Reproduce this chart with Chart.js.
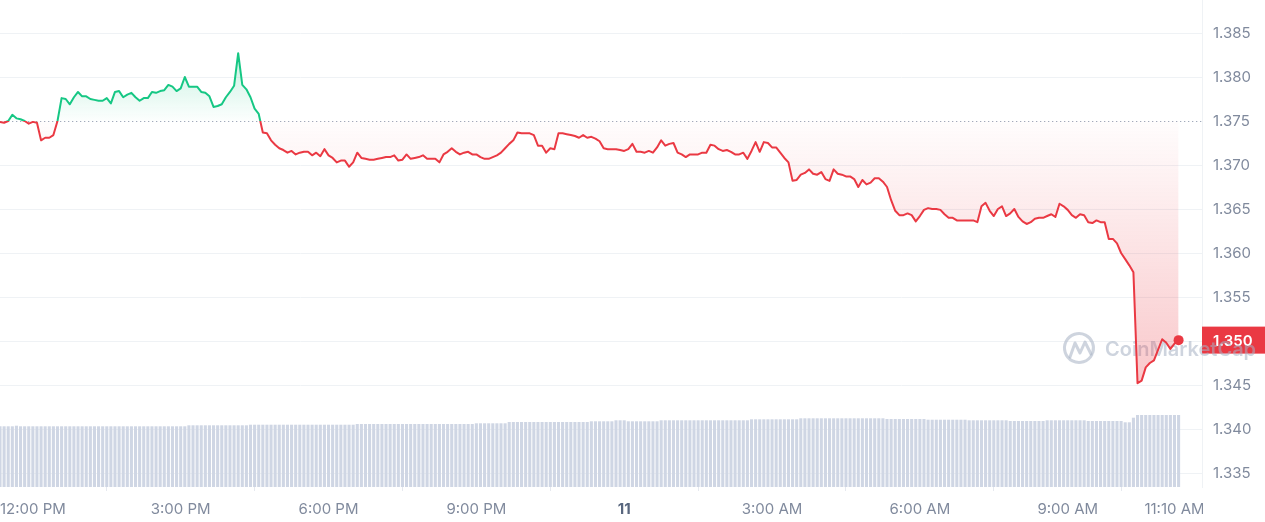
<!DOCTYPE html>
<html>
<head>
<meta charset="utf-8">
<script src="https://cdn.jsdelivr.net/npm/chart.js@4.4.1/dist/chart.umd.min.js"></script>
<style>
  html, body { margin: 0; padding: 0; background: #fff; }
  #wrap { width: 1265px; height: 522px; position: relative; }
</style>
</head>
<body>
<div id="wrap"><canvas id="priceChart"></canvas></div>
<script>
// 24h price, one value per 5-minute slot (slot 0 = 11:20 AM, slot 8 = 12:00 PM)
const OPEN_PRICE = 1.375;

const PRICES = [
  1.3749, 1.3748, 1.3750, 1.3757, 1.3753, 1.3752, 1.3750, 1.3747, 1.3749, 1.3748, 1.3728, 1.3731,
  1.3731, 1.3734, 1.3750, 1.3776, 1.3775, 1.3769, 1.3777, 1.3783, 1.3778, 1.3778, 1.3775, 1.3774,
  1.3773, 1.3773, 1.3776, 1.3770, 1.3783, 1.3784, 1.3777, 1.3780, 1.3782, 1.3777, 1.3773, 1.3776,
  1.3776, 1.3783, 1.3782, 1.3784, 1.3785, 1.3791, 1.3789, 1.3784, 1.3787, 1.3800, 1.3789, 1.3789,
  1.3789, 1.3783, 1.3782, 1.3778, 1.3766, 1.3767, 1.3769, 1.3777, 1.3783, 1.3790, 1.3827, 1.3791,
  1.3786, 1.3777, 1.3764, 1.3758, 1.3737, 1.3736, 1.3728, 1.3723, 1.3719, 1.3717, 1.3714, 1.3716,
  1.3712, 1.3714, 1.3715, 1.3715, 1.3711, 1.3714, 1.3710, 1.3718, 1.3711, 1.3708, 1.3703, 1.3705,
  1.3705, 1.3698, 1.3703, 1.3714, 1.3708, 1.3707, 1.3706, 1.3706, 1.3707, 1.3708, 1.3709, 1.3709,
  1.3711, 1.3705, 1.3706, 1.3712, 1.3707, 1.3708, 1.3709, 1.3711, 1.3707, 1.3707, 1.3707, 1.3703,
  1.3712, 1.3715, 1.3719, 1.3715, 1.3712, 1.3714, 1.3715, 1.3712, 1.3712, 1.3709, 1.3707, 1.3707,
  1.3709, 1.3711, 1.3714, 1.3719, 1.3724, 1.3728, 1.3737, 1.3736, 1.3736, 1.3736, 1.3734, 1.3722,
  1.3722, 1.3714, 1.3719, 1.3718, 1.3736, 1.3736, 1.3735, 1.3734, 1.3733, 1.3731, 1.3734, 1.3731,
  1.3732, 1.3730, 1.3727, 1.3719, 1.3718, 1.3718, 1.3718, 1.3717, 1.3716, 1.3718, 1.3724, 1.3715,
  1.3715, 1.3714, 1.3716, 1.3714, 1.3720, 1.3728, 1.3722, 1.3724, 1.3725, 1.3714, 1.3712, 1.3709,
  1.3712, 1.3712, 1.3712, 1.3714, 1.3714, 1.3723, 1.3722, 1.3718, 1.3716, 1.3717, 1.3715, 1.3712,
  1.3712, 1.3714, 1.3707, 1.3716, 1.3726, 1.3715, 1.3726, 1.3725, 1.3720, 1.3720, 1.3714, 1.3708,
  1.3703, 1.3682, 1.3683, 1.3689, 1.3691, 1.3695, 1.3690, 1.3689, 1.3692, 1.3684, 1.3682, 1.3695,
  1.3690, 1.3689, 1.3687, 1.3687, 1.3684, 1.3675, 1.3683, 1.3678, 1.3680, 1.3685, 1.3685, 1.3681,
  1.3675, 1.3660, 1.3648, 1.3643, 1.3643, 1.3645, 1.3643, 1.3636, 1.3642, 1.3649, 1.3651, 1.3650,
  1.3650, 1.3649, 1.3644, 1.3640, 1.3640, 1.3637, 1.3637, 1.3637, 1.3637, 1.3637, 1.3635, 1.3653,
  1.3657, 1.3648, 1.3642, 1.3650, 1.3653, 1.3642, 1.3645, 1.3650, 1.3641, 1.3636, 1.3633, 1.3635,
  1.3639, 1.3640, 1.3640, 1.3642, 1.3644, 1.3641, 1.3656, 1.3653, 1.3649, 1.3643, 1.3640, 1.3644,
  1.3643, 1.3635, 1.3634, 1.3637, 1.3635, 1.3635, 1.3616, 1.3616, 1.3611, 1.3600, 1.3593, 1.3586,
  1.3578, 1.3452, 1.3455, 1.3470, 1.3475, 1.3478, 1.3490, 1.3502, 1.3498, 1.3491, 1.3497, 1.3501,
];

// volume per slot (relative units, hidden axis)
const VOLUMES = [
  60.7, 60.7, 60.7, 60.7, 61.3, 60.7, 60.7, 60.7, 60.7, 60.7, 60.7, 60.7,
  60.7, 60.7, 60.7, 60.7, 60.7, 60.7, 60.7, 60.7, 60.7, 60.7, 60.7, 60.7,
  60.7, 60.7, 60.7, 60.7, 60.7, 60.7, 60.7, 60.7, 60.7, 60.7, 60.7, 60.7,
  60.7, 60.7, 60.7, 60.7, 60.7, 60.7, 60.7, 60.7, 60.7, 60.7, 61.7, 61.7,
  61.7, 61.7, 61.7, 61.7, 61.7, 61.7, 61.7, 61.7, 61.7, 61.7, 61.7, 61.7,
  61.7, 62.3, 62.3, 62.3, 62.3, 62.3, 62.3, 62.3, 62.3, 62.3, 62.3, 62.3,
  62.3, 62.3, 62.3, 62.3, 62.3, 62.3, 62.3, 62.3, 62.3, 62.3, 62.3, 62.3,
  62.3, 62.3, 62.3, 63.0, 63.0, 63.0, 63.0, 63.0, 63.0, 63.0, 63.0, 63.0,
  63.0, 63.0, 63.0, 63.0, 63.0, 63.0, 63.0, 63.0, 63.0, 63.0, 63.0, 63.0,
  63.0, 63.0, 63.0, 63.0, 63.0, 63.0, 63.0, 63.0, 63.7, 63.7, 63.7, 63.7,
  63.7, 63.7, 63.7, 63.7, 65.0, 65.0, 65.0, 65.0, 65.0, 65.0, 65.0, 65.0,
  65.0, 65.0, 65.0, 65.0, 65.0, 65.0, 65.0, 65.0, 65.0, 65.0, 65.0, 65.0,
  65.7, 65.7, 65.7, 65.7, 65.7, 65.7, 66.7, 66.7, 66.7, 65.7, 65.7, 65.7,
  65.7, 65.7, 65.7, 65.7, 65.7, 66.7, 66.7, 66.7, 66.7, 66.7, 66.7, 66.7,
  66.7, 66.7, 66.7, 66.7, 66.7, 66.7, 66.7, 66.7, 66.7, 66.7, 66.7, 66.7,
  66.7, 66.7, 66.7, 67.7, 67.7, 67.7, 67.7, 67.7, 67.7, 67.7, 67.7, 67.7,
  67.7, 67.7, 67.7, 68.7, 68.7, 68.7, 68.7, 68.7, 68.7, 68.7, 68.7, 68.7,
  68.7, 68.7, 68.7, 68.7, 68.7, 68.7, 68.7, 68.7, 68.7, 68.7, 68.7, 68.7,
  68.0, 68.0, 68.0, 68.0, 68.0, 68.0, 68.0, 68.0, 68.0, 68.0, 67.3, 67.3,
  67.3, 67.3, 67.3, 67.3, 67.3, 67.3, 67.3, 67.3, 66.7, 66.7, 66.7, 66.7,
  66.7, 66.7, 66.7, 66.7, 66.7, 66.7, 66.0, 66.0, 66.0, 66.0, 66.0, 66.0,
  66.0, 66.0, 66.0, 66.7, 66.7, 66.7, 66.7, 66.7, 66.7, 66.7, 66.7, 66.7,
  66.7, 66.0, 66.0, 66.0, 66.0, 66.0, 66.0, 66.0, 66.0, 66.0, 64.7, 64.7,
  69.3, 72.0, 72.0, 72.0, 72.0, 72.0, 72.0, 72.0, 72.0, 72.0, 72.0, 72.0,
];

const TICK_SLOTS  = [8, 44, 80, 116, 152, 188, 224, 260, 286];
const TICK_LABELS = ['12:00 PM', '3:00 PM', '6:00 PM', '9:00 PM', '11', '3:00 AM', '6:00 AM', '9:00 AM', '11:10 AM'];
const PRICE_TICKS = [1.335, 1.340, 1.345, 1.350, 1.355, 1.360, 1.365, 1.370, 1.375, 1.380, 1.385];

const GREEN     = '#16c784';
const RED       = '#ea3943';
const GRID      = '#eff2f5';
const AXIS_TEXT = '#808a9d';
const VOL_COLOR = '#cfd6e4';
const FONT      = 'Inter, "Noto Sans", sans-serif';

// line colour switches exactly at the open price
function splitStroke(chart) {
  const { ctx, chartArea, scales } = chart;
  if (!chartArea || !scales.y) return GREEN;
  const yBase = scales.y.getPixelForValue(OPEN_PRICE);
  const f = (yBase - chartArea.top) / (chartArea.bottom - chartArea.top);
  const g = ctx.createLinearGradient(0, chartArea.top, 0, chartArea.bottom);
  g.addColorStop(0, GREEN);
  g.addColorStop(f, GREEN);
  g.addColorStop(f, RED);
  g.addColorStop(1, RED);
  return g;
}

function splitFill(chart) {
  const { ctx, chartArea, scales } = chart;
  if (!chartArea || !scales.y) return 'rgba(0,0,0,0)';
  const yHi   = scales.y.getPixelForValue(Math.max(...PRICES));
  const yLo   = scales.y.getPixelForValue(Math.min(...PRICES));
  const yBase = scales.y.getPixelForValue(OPEN_PRICE);
  const f = (yBase - yHi) / (yLo - yHi);
  const g = ctx.createLinearGradient(0, yHi, 0, yLo);
  g.addColorStop(0, 'rgba(22,199,132,0.24)');
  g.addColorStop(f, 'rgba(22,199,132,0.01)');
  g.addColorStop(f, 'rgba(234,57,67,0.01)');
  g.addColorStop(1, 'rgba(234,57,67,0.28)');
  return g;
}

const cmcDecor = {
  id: 'cmcDecor',
  beforeDatasetsDraw(chart) {
    const { ctx, chartArea, scales } = chart;
    const yBase = scales.y.getPixelForValue(OPEN_PRICE);

    // dotted open-price line
    ctx.save();
    ctx.strokeStyle = '#a1aabb';
    ctx.lineWidth = 1;
    ctx.setLineDash([1.3, 2.7]);
    ctx.beginPath();
    ctx.moveTo(chartArea.left, Math.round(yBase) + 0.5);
    ctx.lineTo(chartArea.right, Math.round(yBase) + 0.5);
    ctx.stroke();
    ctx.restore();

    // last price tag on the axis
    const last = PRICES[PRICES.length - 1];
    const yLast = scales.y.getPixelForValue(last);
    ctx.save();
    ctx.fillStyle = RED;
    ctx.fillRect(chartArea.right, yLast - 13.5, chart.width - chartArea.right, 27);
    ctx.fillStyle = '#fff';
    ctx.font = '600 15px ' + FONT;
    ctx.textBaseline = 'middle';
    ctx.textAlign = 'left';
    ctx.fillText(last.toFixed(3), chartArea.right + 11, yLast + 1);
    ctx.restore();

    // watermark
    const cx = chartArea.right - 123, cy = chartArea.top + 348;
    ctx.save();
    ctx.strokeStyle = 'rgba(166,176,195,0.55)';
    ctx.fillStyle = 'rgba(166,176,195,0.55)';
    ctx.lineWidth = 3;
    ctx.lineCap = 'round';
    ctx.lineJoin = 'round';
    ctx.beginPath();
    ctx.arc(cx, cy, 14.5, 0.15 * Math.PI, 2.1 * Math.PI);
    ctx.stroke();
    ctx.beginPath();
    ctx.moveTo(cx - 9, cy + 9);
    ctx.lineTo(cx - 4, cy - 5);
    ctx.lineTo(cx + 1, cy + 5);
    ctx.lineTo(cx + 6, cy - 6);
    ctx.lineTo(cx + 12, cy + 6);
    ctx.stroke();
    ctx.font = '600 20px ' + FONT;
    ctx.textBaseline = 'alphabetic';
    ctx.fillText('CoinMarketCap', cx + 26, cy + 8);
    ctx.restore();
  },
  afterDraw(chart) {
    // x labels are cut off at the right edge of the plot
    const { ctx, chartArea } = chart;
    ctx.save();
    ctx.fillStyle = '#fff';
    ctx.fillRect(chartArea.right + 1, chartArea.bottom + 6, chart.width - chartArea.right, chart.height - chartArea.bottom);
    ctx.restore();
  },
};

new Chart(document.getElementById('priceChart'), {
  type: 'line',
  data: {
    datasets: [
      {
        label: 'Price',
        data: PRICES.map((p, i) => ({ x: i, y: p })),
        yAxisID: 'y',
        borderColor: (c) => splitStroke(c.chart),
        backgroundColor: (c) => splitFill(c.chart),
        fill: { target: { value: OPEN_PRICE } },
        borderWidth: 2,
        borderJoinStyle: 'round',
        tension: 0,
        pointRadius: (c) => (c.dataIndex === PRICES.length - 1 ? 5 : 0),
        pointBackgroundColor: RED,
        pointBorderColor: RED,
        pointBorderWidth: 0,
        pointHoverRadius: 0,
        order: 1,
      },
      {
        type: 'bar',
        label: 'Volume',
        data: VOLUMES.map((v, i) => ({ x: i, y: v })),
        yAxisID: 'y1',
        backgroundColor: VOL_COLOR,
        barPercentage: 0.75,
        categoryPercentage: 1,
        order: 2,
      },
    ],
  },
  options: {
    responsive: true,
    maintainAspectRatio: false,
    animation: false,
    layout: { padding: 0, autoPadding: false },
    plugins: { legend: { display: false }, tooltip: { enabled: false } },
    scales: {
      x: {
        type: 'linear',
        min: 0,
        max: 292.7,
        bounds: 'data',
        offset: false,
        afterBuildTicks: (s) => { s.ticks = TICK_SLOTS.map(v => ({ value: v })); },
        afterFit: (s) => { s.height = 35; s.paddingLeft = 0; s.paddingRight = 0; },
        grid: { drawOnChartArea: false, drawTicks: true, tickLength: 4, color: GRID, tickColor: '#e6e9ef' },
        border: { display: false },
        ticks: {
          autoSkip: false,
          maxRotation: 0,
          padding: 9,
          color: (c) => (TICK_LABELS[c.index] === '11' ? '#58667e' : AXIS_TEXT),
          font: (c) => ({ family: FONT, size: 15, weight: TICK_LABELS[c.index] === '11' ? 'bold' : 'normal' }),
          callback: (v) => TICK_LABELS[TICK_SLOTS.indexOf(v)],
        },
      },
      y: {
        position: 'right',
        min: 1.33341,
        max: 1.38875,
        bounds: 'data',
        afterBuildTicks: (s) => { s.ticks = PRICE_TICKS.map(v => ({ value: v })); },
        afterFit: (s) => { s.width = 63; s.paddingTop = 0; s.paddingBottom = 0; },
        grid: {
          drawTicks: false,
          color: (c) => (c.tick && Math.abs(c.tick.value - OPEN_PRICE) < 1e-6 ? 'rgba(0,0,0,0)' : GRID),
        },
        border: { display: true, color: GRID },
        ticks: {
          padding: 11,
          color: AXIS_TEXT,
          font: { family: FONT, size: 15 },
          callback: (v) => v.toFixed(3),
        },
      },
      y1: { display: false, min: 0, max: 487 },
    },
  },
  plugins: [cmcDecor],
});
</script>
</body>
</html>
